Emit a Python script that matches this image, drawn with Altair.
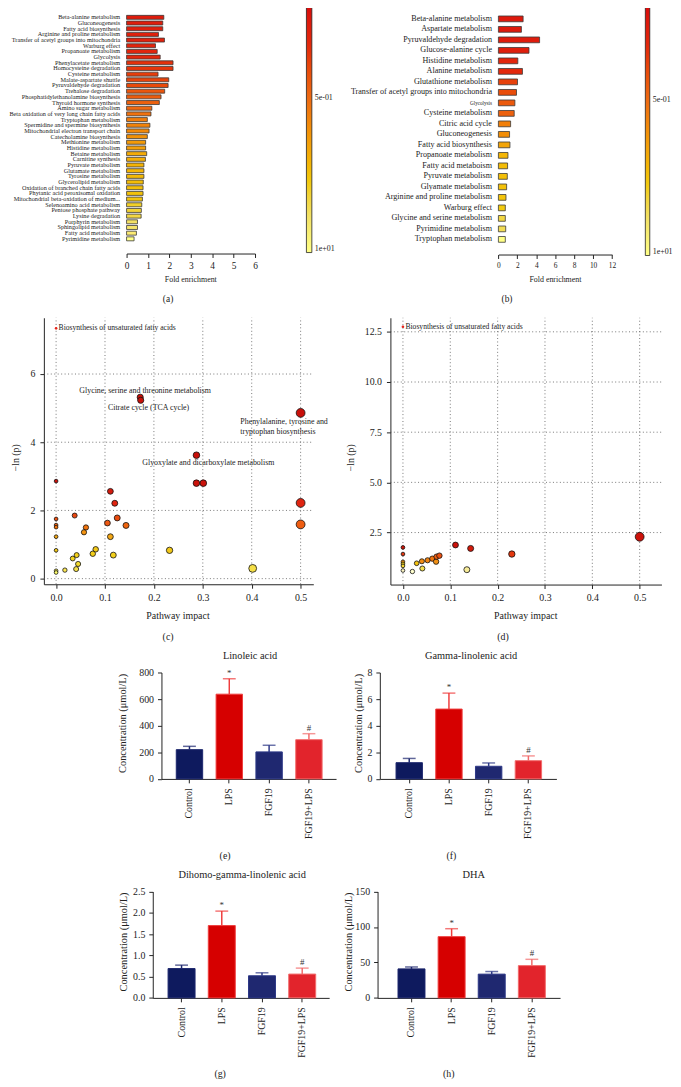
import altair as alt
import pandas as pd

SERIF = "Liberation Serif"
INK = "#222222"

# ---------------- (a) enrichment ----------------
A_PATHWAYS = [
    "Beta-alanine metabolism", "Gluconeogenesis", "Fatty acid biosynthesis",
    "Arginine and proline metabolism", "Transfer of acetyl groups into mitochondria",
    "Warburg effect", "Propanoate metabolism", "Glycolysis", "Phenylacetate metabolism",
    "Homocysteine degradation", "Cysteine metabolism", "Malate-aspartate shuttle",
    "Pyruvaldehyde degradation", "Trehalose degradation",
    "Phosphatidylethanolamine biosynthesis", "Thyroid hormone synthesis",
    "Amino sugar metabolism", "Beta oxidation of very long chain fatty acids",
    "Tryptophan metabolism", "Spermidine and spermine biosynthesis",
    "Mitochondrial electron transport chain", "Catecholamine biosynthesis",
    "Methionine metabolism", "Histidine metabolism", "Betaine metabolism",
    "Carnitine synthesis", "Pyruvate metabolism", "Glutamate metabolism",
    "Tyrosine metabolism", "Glycerolipid metabolism",
    "Oxidation of branched chain fatty acids", "Phytanic acid peroxisomal oxidation",
    "Mitochondrial beta-oxidation of medium...", "Selenoamino acid metabolism",
    "Pentose phosphate pathway", "Lysine degradation", "Porphyrin metabolism",
    "Sphingolipid metabolism", "Fatty acid metabolism", "Pyrimidine metabolism",
]
A_FOLD = [1.74, 1.69, 1.69, 1.49, 1.77, 1.35, 1.43, 1.57, 2.17, 2.17, 1.47, 1.97, 1.94,
          1.78, 1.61, 1.53, 1.18, 1.14, 0.97, 1.09, 1.05, 0.97, 0.89, 0.89, 0.94, 0.88,
          0.81, 0.81, 0.81, 0.78, 0.77, 0.77, 0.74, 0.71, 0.69, 0.68, 0.51, 0.51, 0.46, 0.35]
A_P = [0.121, 0.127, 0.134, 0.141, 0.148, 0.156, 0.163, 0.172, 0.200, 0.210, 0.232, 0.256,
       0.283, 0.346, 0.382, 0.422, 0.490, 0.570, 0.661, 0.731, 0.808, 0.938, 1.09, 1.20,
       1.47, 1.55, 1.71, 1.80, 1.89, 1.98, 2.09, 2.19, 2.31, 2.96, 3.27, 3.61, 4.88, 5.39,
       6.26, 10.0]

# ---------------- (b) enrichment ----------------
B_PATHWAYS = [
    "Beta-alanine metabolism", "Aspartate metabolism", "Pyruvaldehyde degradation",
    "Glucose-alanine cycle", "Histidine metabolism", "Alanine metabolism",
    "Glutathione metabolism", "Transfer of acetyl groups into mitochondria", "Glycolysis",
    "Cysteine metabolism", "Citric acid cycle", "Gluconeogenesis", "Fatty acid biosynthesis",
    "Propanoate metabolism", "Fatty acid metaboism", "Pyruvate metabolism",
    "Glyamate metabolism", "Arginine and proline metabolism", "Warburg effect",
    "Glycine and serine metabolism", "Pyrimidine metabolism", "Tryptophan metabolism",
]
B_FOLD = [2.61, 2.43, 4.35, 3.23, 2.05, 2.54, 2.02, 1.91, 1.74, 1.67, 1.29, 1.18, 1.22,
          1.01, 0.97, 0.94, 0.87, 0.80, 0.73, 0.73, 0.77, 0.73]
B_P = [0.110, 0.115, 0.121, 0.134, 0.163, 0.181, 0.244, 0.297, 0.363, 0.422, 0.695, 0.893,
       1.33, 1.80, 1.98, 2.09, 2.19, 2.31, 2.55, 3.61, 4.20, 10.0]

# colour bar: p-value stops (small p = red, p = 10 = white)
P_STOPS = [0.0838, 0.1807, 0.5, 1.233, 2.657, 5.203, 10.0]
HEAT = ["#d90c0c", "#e3280c", "#ee6a12", "#f3a10a", "#f2cc10", "#f3e36a", "#ffffff"]
P_TICKS = [0.5, 10.0]

# ---------------- (c) pathway impact ----------------
C_NAME = ["Glycine, serine and threonine metabolism", "Citrate cycle (TCA cycle)",
          "Phenylalanine, tyrosine and tryptophan biosynthesis",
          "Glyoxylate and dicarboxylate metabolism"] + [""] * 31
C_IMPACT = [0.172, 0.173, 0.5, 0.287, 0.287, 0.301, 0.5, 0.5, 0.402, 0.232,
            0.0, 0.0, 0.0, 0.0, 0.0, 0.0, 0.0, 0.0,
            0.038, 0.061, 0.057, 0.111, 0.120, 0.125, 0.105, 0.143, 0.111, 0.117,
            0.081, 0.075, 0.034, 0.042, 0.045, 0.041, 0.018]
C_LNP = [5.32, 5.23, 4.86, 3.62, 2.80, 2.80, 2.22, 1.59, 0.30, 0.83,
         2.86, 1.75, 1.57, 1.51, 1.23, 0.83, 0.23, 0.18,
         1.85, 1.50, 1.36, 2.56, 2.21, 1.78, 1.63, 1.56, 1.23, 0.69,
         0.86, 0.73, 0.59, 0.69, 0.43, 0.28, 0.25]
C_TOP = {"name": ["Biosynthesis of unsaturated fatty acids"], "impact": [0.0], "lnp": [7.34]}

# ---------------- (d) pathway impact ----------------
D_IMPACT = [0.5, 0.111, 0.143, 0.230, 0.135, 0.0, 0.0, 0.0, 0.0, 0.0, 0.0,
            0.020, 0.029, 0.041, 0.040, 0.052, 0.062, 0.070, 0.071, 0.077]
D_LNP = [2.29, 1.88, 1.71, 1.43, 0.65, 1.76, 1.43, 1.04, 0.94, 0.84, 0.61,
         0.56, 0.97, 0.71, 1.07, 1.12, 1.20, 1.05, 1.30, 1.35]
D_TOP = {"name": ["Biosynthesis of unsaturated fatty acids"], "impact": [0.0], "lnp": [12.75]}

# ---------------- (e)-(h) concentrations ----------------
GROUPS = ["Control", "LPS", "FGF19", "FGF19+LPS"]
SIG = ["", "*", "", "#"]
FILL = ["#0e1a5e", "#d60000", "#1f2870", "#e2242c"]
EDGE = ["#1c276e", "#ef3d3d", "#2c3786", "#f26b6b"]
E_MEAN, E_SD = [220, 637, 203, 295], [25, 116, 50, 45]
F_MEAN, F_SD = [1.22, 5.25, 0.95, 1.37], [0.32, 1.20, 0.25, 0.36]
G_MEAN, G_SD = [0.69, 1.70, 0.52, 0.56], [0.08, 0.34, 0.07, 0.14]
H_MEAN, H_SD = [40.9, 86.4, 33.5, 45.5], [2.7, 11.2, 3.7, 8.9]

COL_W = [340, 341]
ROW_H = [300, 312, 238, 237]


def note(text, x, y, size, angle=0, align="center", baseline="middle"):
    return alt.Chart(pd.DataFrame({"t": [text]})).mark_text(
        font=SERIF, fontSize=size, angle=angle, align=align, baseline=baseline, color=INK
    ).encode(text="t:N", x=alt.value(x), y=alt.value(y))


# Vega draws vertical gradients with the largest value on top, so the colour bar
# is keyed on 1/p (small p = large 1/p = red on top, p = 10 at the bottom).
INV_STOPS = [1.0 / v for v in reversed(P_STOPS)]
INV_HEAT = list(reversed(HEAT))
INV_TICKS = [1.0 / v for v in P_TICKS]


def enrich(names, fold, pvals, W, H, xr, yr, xmax, xstep, pad_inner, axis_y, lab_fs,
           tick_fs, leg_x, leg_y, leg_len, leg_thick, fe_x, tag, tag_x, tag_y, small=None):
    df = pd.DataFrame({"pathway": names, "fold": fold, "p": pvals})
    if small is None:
        label_fs = lab_fs
    else:
        label_fs = {"condition": {"test": f"datum.value === '{small[0]}'", "value": small[1]},
                    "value": lab_fs}
    bars = alt.Chart(df).transform_calculate(inv_p="1 / datum.p").mark_bar(
        stroke="#3a3a3a", strokeWidth=0.8
    ).encode(
        y=alt.Y("pathway:N", sort=names,
                scale=alt.Scale(range=yr, paddingInner=pad_inner, paddingOuter=pad_inner / 2),
                axis=alt.Axis(title=None, domain=False, ticks=False, labelPadding=7,
                              offset=-xr[0], labelFont=SERIF, labelFontSize=label_fs,
                              labelColor=INK, labelLimit=400, labelOverlap=False)),
        x=alt.X("fold:Q", scale=alt.Scale(domain=[0, xmax], range=xr, nice=False),
                axis=alt.Axis(title=None, values=list(range(0, xmax + 1, xstep)),
                              offset=axis_y - H, tickSize=4, labelPadding=3,
                              labelFontSize=tick_fs, labelFont=SERIF)),
        color=alt.Color("inv_p:Q",
                        scale=alt.Scale(type="log", domain=INV_STOPS, range=INV_HEAT,
                                        clamp=True),
                        legend=alt.Legend(orient="none", legendX=leg_x, legendY=leg_y,
                                          direction="vertical", title=None,
                                          gradientLength=leg_len, gradientThickness=leg_thick,
                                          gradientStrokeColor=INK, gradientStrokeWidth=0.8,
                                          values=INV_TICKS,
                                          labelExpr="datum.value < 1 ? '1e+01' : '5e-01'",
                                          labelFont=SERIF, labelFontSize=8, labelOffset=3,
                                          labelColor=INK, padding=0)),
    )
    return alt.layer(
        bars, note("Fold enrichment", fe_x, 277, 8), note(tag, tag_x, tag_y, 9.5)
    ).properties(width=W, height=H)


SIZE_SCALE = alt.Scale(domain=[0, 0.04, 0.12, 0.3, 0.5], range=[14, 26, 36, 45, 80])


def scatter(impact, lnp, names, top, W, H, xdom, xr, ydom, yr, yvals, yfmt, cdom, crng,
            labels, ytitle_x, pi_x, tag, tag_x):
    XS = alt.Scale(domain=xdom, range=xr, nice=False, zero=False)
    YS = alt.Scale(domain=ydom, range=yr, nice=False, zero=False)
    XA = alt.Axis(title=None, values=[0, 0.1, 0.2, 0.3, 0.4, 0.5], format=".1f",
                  offset=yr[0] - H, tickSize=4, labelPadding=4, labelFontSize=10,
                  labelFont=SERIF)
    YA = alt.Axis(title=None, values=yvals, format=yfmt, offset=-xr[0], tickSize=4,
                  labelPadding=5, labelFontSize=10, labelFont=SERIF)

    def X():
        return alt.X("impact:Q", scale=XS, axis=XA)

    def Y():
        return alt.Y("lnp:Q", scale=YS, axis=YA)

    gx = [0, 0.1, 0.2, 0.3, 0.4, 0.5]
    vg = pd.DataFrame({"impact": gx, "lnp": [ydom[0]] * len(gx), "lnp2": [ydom[1]] * len(gx)})
    hg = pd.DataFrame({"lnp": yvals, "impact": [xdom[0]] * len(yvals),
                       "impact2": [xdom[1]] * len(yvals)})
    dash = dict(strokeDash=[1, 2.5], color="#555555", strokeWidth=0.8)
    grid_v = alt.Chart(vg).mark_rule(**dash).encode(x=X(), y=Y(), y2="lnp2:Q")
    grid_h = alt.Chart(hg).mark_rule(**dash).encode(x=X(), x2="impact2:Q", y=Y())

    df = pd.DataFrame({"name": names, "impact": impact, "lnp": lnp})
    pts = alt.Chart(df).mark_circle(stroke="#111111", strokeWidth=0.8, opacity=1).encode(
        x=X(), y=Y(),
        size=alt.Size("impact:Q", scale=SIZE_SCALE, legend=None),
        color=alt.Color("lnp:Q", scale=alt.Scale(domain=cdom, range=crng, clamp=True),
                        legend=None),
    )
    tdf = pd.DataFrame(top)
    top_pt = alt.Chart(tdf).mark_circle(size=7, color="#e8231a", opacity=1).encode(x=X(), y=Y())
    top_lab = alt.Chart(tdf).mark_text(font=SERIF, fontSize=7.7, align="left", dx=2.5,
                                       color=INK).encode(x=X(), y=Y(), text="name:N")
    layers = [grid_v, grid_h, pts, top_pt, top_lab]
    for name, dx, dy, align, baseline, text in labels:
        txt = alt.value(text) if text is not None else alt.Text("name:N")
        layers.append(
            alt.Chart(df).transform_filter(alt.datum.name == name).mark_text(
                font=SERIF, fontSize=8, align=align, baseline=baseline, dx=dx, dy=dy,
                color=INK, lineHeight=10
            ).encode(x=X(), y=Y(), text=txt)
        )
    layers += [note("\u2212ln (p)", ytitle_x, 156.7, 10, angle=270),
               note("Pathway impact", pi_x, 317, 10),
               note(tag, tag_x, 338, 10)]
    return alt.layer(*layers).properties(width=W, height=H)


def conc(title, mean, sd, ymax, yvals, yfmt, W, H, axis_x, first_left, step, bw, end_x,
         y0, ytop, title_x, title_y, yt_x, yt_y, tag, tag_x, tag_y):
    n = len(GROUPS)
    R = end_x - axis_x
    p_in = 1 - bw / step
    p_out = (R / step - n + p_in) / 2
    al = (first_left - axis_x) / (R - step * (n - p_in))
    df = pd.DataFrame({"group": GROUPS, "mean": mean, "sd": sd, "sig": SIG})
    XS = alt.Scale(domain=GROUPS, range=[axis_x, end_x], paddingInner=p_in,
                   paddingOuter=p_out, align=al)
    YS = alt.Scale(domain=[0, ymax], range=[y0, ytop], nice=False)
    XA = alt.Axis(title=None, labelAngle=270, offset=y0 - H, tickSize=4, labelPadding=5,
                  labelFont=SERIF, labelFontSize=10)
    YA = alt.Axis(title=None, values=yvals, format=yfmt, offset=-axis_x, tickSize=4,
                  labelPadding=4, labelFont=SERIF, labelFontSize=10)
    base = alt.Chart(df).transform_calculate(top="datum.mean + datum.sd")

    def X():
        return alt.X("group:N", sort=GROUPS, scale=XS, axis=XA)

    def Y(f):
        return alt.Y(f"{f}:Q", scale=YS, axis=YA)

    edge = alt.Scale(domain=GROUPS, range=EDGE)
    bars = base.mark_bar(strokeWidth=1).encode(
        x=X(), y=Y("mean"),
        fill=alt.Fill("group:N", scale=alt.Scale(domain=GROUPS, range=FILL), legend=None),
        stroke=alt.Stroke("group:N", scale=edge, legend=None),
    )
    err = base.mark_rule(strokeWidth=1.5).encode(
        x=X(), y=Y("mean"), y2="top:Q", color=alt.Color("group:N", scale=edge, legend=None))
    cap = base.mark_tick(thickness=1.5, size=13).encode(
        x=X(), y=Y("top"), color=alt.Color("group:N", scale=edge, legend=None))
    sig = base.mark_text(font=SERIF, fontSize=9, baseline="alphabetic", dy=-3,
                         color="#333333").encode(x=X(), y=Y("top"), text="sig:N")
    return alt.layer(
        bars, err, cap, sig,
        note(title, title_x, title_y, 10.5),
        note("Concentration (\u03bcmol/L)", yt_x, yt_y, 10.5, angle=270),
        note(tag, tag_x, tag_y, 10),
    ).properties(width=W, height=H)


pa = enrich(A_PATHWAYS, A_FOLD, A_P, COL_W[0], ROW_H[0], [128, 258], [8.1, 238], 6, 1, 0.3,
            250, 6.3, 9.5, 310, 0, 249, 5.5, 193, "(a)", 170, 296)
pb = enrich(B_PATHWAYS, B_FOLD, B_P, COL_W[1], ROW_H[0], [164.3, 279.3], [7.2, 241], 12, 2,
            0.45, 251, 8.2, 7.5, 313, 1, 251, 4.5, 222, "(b)", 173, 296,
            small=("Glycolysis", 5.2))

C_LABELS = [
    ("Glycine, serine and threonine metabolism", 5, -6.5, "center", "middle", None),
    ("Citrate cycle (TCA cycle)", 8, 8, "center", "middle", None),
    ("Phenylalanine, tyrosine and tryptophan biosynthesis", -61, 5.5, "left", "top",
     ["Phenylalanine, tyrosine and", "tryptophan biosynthesis"]),
    ("Glyoxylate and dicarboxylate metabolism", 12, 8.2, "center", "middle", None),
]
pc = scatter(C_IMPACT, C_LNP, C_NAME, C_TOP, COL_W[0], ROW_H[1],
             [-0.025, 0.526], [44.3, 317], [-0.165, 7.65], [284.7, 15], [0, 2, 4, 6], "d",
             [0.2, 0.27, 0.5, 1.0, 1.3, 1.6, 2.2, 2.9],
             ["#ffffff", "#f5e04a", "#f2d920", "#f2c015", "#f3a018", "#ee5a12", "#e02410",
              "#c8100a"],
             C_LABELS, 16, 180, "(c)", 170)
pd_ = scatter(D_IMPACT, D_LNP, [""] * len(D_IMPACT), D_TOP, COL_W[1], ROW_H[1],
              [-0.0265, 0.546], [55, 329.3], [-0.09, 13.2], [285, 15],
              [2.5, 5.0, 7.5, 10.0, 12.5], ".1f",
              [0.56, 0.62, 0.7, 0.95, 1.05, 1.3, 1.45, 1.8],
              ["#ffffff", "#faf3c0", "#f4df50", "#f2cf18", "#f19015", "#ee5f12", "#e2300f",
               "#cc120b"],
              [], 15, 192, "(d)", 169)

pe = conc("Linoleic acid", E_MEAN, E_SD, 800, [0, 200, 400, 600, 800], "d", COL_W[0],
          ROW_H[2], 163.3, 178.3, 40.3, 26.7, 340, 169.7, 62, 253, 45, 124, 113.5, "(e)",
          227.7, 248)
pf = conc("Gamma-linolenic acid", F_MEAN, F_SD, 8, [0, 2, 4, 6, 8], "d", COL_W[1],
          ROW_H[2], 44.3, 60.7, 40.2, 26.7, 223, 169.7, 62, 136.7, 45, 23.3, 113.5, "(f)",
          116.7, 248)
pg = conc("Dihomo-gamma-linolenic acid", G_MEAN, G_SD, 2.5, [0, 0.5, 1.0, 1.5, 2.0, 2.5],
          ".1f", COL_W[0], ROW_H[3], 154.5, 170, 40.7, 27.3, 333, 153.3, 45.7, 245, 29.3,
          125, 96.7, "(g)", 222.7, 230)
ph = conc("DHA", H_MEAN, H_SD, 150, [0, 50, 100, 150], "d", COL_W[1], ROW_H[3], 42, 62.7,
          40.6, 27.3, 226.7, 153.3, 45.7, 139.3, 29.3, 13.3, 96.7, "(h)", 114, 230)

chart = alt.concat(
    pa, pb, pc, pd_, pe, pf, pg, ph, columns=2, spacing=0, bounds="flush"
).resolve_scale(
    x="independent", y="independent", color="independent", fill="independent",
    stroke="independent", size="independent"
).resolve_legend(color="independent").properties(
    padding={"left": -8, "top": -8, "right": 0, "bottom": 0}
).configure_view(strokeWidth=0).configure_axis(
    grid=False, domainColor=INK, tickColor=INK, labelColor=INK, domainWidth=1,
    tickWidth=1, labelFlush=False
)

chart.save("out.html", embed_options={"renderer": "svg", "actions": False})
